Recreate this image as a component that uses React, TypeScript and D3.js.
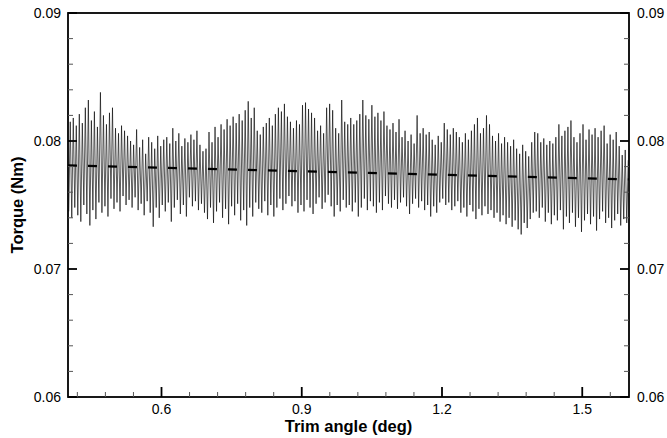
import React from "react";
import * as d3 from "d3";

// Peak (local maxima) values of the torque signal, read left to right
const peaks: number[] = [
  0.0815, 0.0818, 0.0812, 0.0821, 0.0814, 0.0826, 0.0832, 0.0816, 0.0823, 0.0811, 0.0838, 0.0820, 0.0813, 0.0822, 0.0826, 0.0810, 0.0806, 0.0812, 0.0808, 0.0804, 0.0800, 0.0797, 0.0809, 0.0795, 0.0801, 0.0790, 0.0803, 0.0799, 0.0794, 0.0804, 0.0796,
  0.0801, 0.0803, 0.0798, 0.0810, 0.0800, 0.0806, 0.0796, 0.0802, 0.0799, 0.0805, 0.0801, 0.0808, 0.0797, 0.0792, 0.0794, 0.0807, 0.0799, 0.0811, 0.0803, 0.0813, 0.0809, 0.0817, 0.0812, 0.0819, 0.0814, 0.0821, 0.0816, 0.0824, 0.0831, 0.0818, 0.0826,
  0.0808, 0.0805, 0.0811, 0.0814, 0.0818, 0.0812, 0.0821, 0.0826, 0.0823, 0.0829, 0.0819, 0.0815, 0.0810, 0.0816, 0.0813, 0.0828, 0.0830, 0.0825, 0.0822, 0.0818, 0.0808, 0.0812, 0.0806, 0.0826, 0.0829, 0.0824, 0.0810, 0.0806, 0.0832, 0.0815, 0.0813,
  0.0818, 0.0813, 0.0816, 0.0821, 0.0832, 0.0820, 0.0817, 0.0828, 0.0819, 0.0822, 0.0816, 0.0823, 0.0812, 0.0809, 0.0814, 0.0807, 0.0817, 0.0803, 0.0808, 0.0800, 0.0805, 0.0798, 0.0820, 0.0806, 0.0810, 0.0805, 0.0807, 0.0801, 0.0797, 0.0804, 0.0799,
  0.0814, 0.0809, 0.0805, 0.0810, 0.0807, 0.0803, 0.0799, 0.0806, 0.0801, 0.0808, 0.0813, 0.0818, 0.0806, 0.0810, 0.0820, 0.0813, 0.0804, 0.0800, 0.0806, 0.0798, 0.0803, 0.0799, 0.0796, 0.0801, 0.0794, 0.0790, 0.0797, 0.0792, 0.0788, 0.0799, 0.0807,
  0.0806, 0.0799, 0.0802, 0.0797, 0.0800, 0.0798, 0.0803, 0.0813, 0.0804, 0.0808, 0.0811, 0.0816, 0.0803, 0.0799, 0.0806, 0.0813, 0.0801, 0.0809, 0.0805, 0.0810, 0.0803, 0.0808, 0.0812, 0.0798, 0.0805, 0.0801, 0.0807, 0.0796, 0.0789, 0.0793, 0.0785,
];

// Trough (local minima) values of the torque signal, read left to right
const troughs: number[] = [
  0.0745, 0.0740, 0.0748, 0.0742, 0.0737, 0.0750, 0.0743, 0.0734, 0.0746, 0.0739, 0.0752, 0.0744, 0.0749, 0.0741, 0.0755, 0.0747, 0.0752, 0.0745, 0.0757, 0.0750, 0.0754, 0.0748, 0.0756, 0.0746, 0.0751, 0.0742, 0.0753, 0.0744, 0.0733, 0.0748, 0.0740,
  0.0750, 0.0745, 0.0752, 0.0737, 0.0748, 0.0754, 0.0743, 0.0750, 0.0741, 0.0756, 0.0749, 0.0753, 0.0746, 0.0751, 0.0744, 0.0739, 0.0748, 0.0736, 0.0745, 0.0752, 0.0740, 0.0747, 0.0735, 0.0749, 0.0742, 0.0751, 0.0738, 0.0746, 0.0734, 0.0748, 0.0741,
  0.0752, 0.0747, 0.0744, 0.0753, 0.0742, 0.0750, 0.0741, 0.0748, 0.0755, 0.0746, 0.0751, 0.0757, 0.0749, 0.0753, 0.0744, 0.0750, 0.0745, 0.0754, 0.0748, 0.0743, 0.0751, 0.0756, 0.0747, 0.0752, 0.0758, 0.0749, 0.0741, 0.0750, 0.0745, 0.0754, 0.0748,
  0.0750, 0.0745, 0.0752, 0.0741, 0.0748, 0.0755, 0.0746, 0.0753, 0.0749, 0.0744, 0.0752, 0.0746, 0.0757, 0.0751, 0.0748, 0.0754, 0.0747, 0.0752, 0.0756, 0.0749, 0.0743, 0.0751, 0.0755, 0.0748, 0.0753, 0.0746, 0.0750, 0.0741, 0.0749, 0.0744, 0.0752,
  0.0755, 0.0750, 0.0752, 0.0746, 0.0749, 0.0753, 0.0744, 0.0748, 0.0741, 0.0750, 0.0745, 0.0739, 0.0747, 0.0742, 0.0749, 0.0743, 0.0746, 0.0740, 0.0744, 0.0737, 0.0742, 0.0735, 0.0740, 0.0733, 0.0738, 0.0731, 0.0727, 0.0736, 0.0732, 0.0739, 0.0744,
  0.0745, 0.0740, 0.0748, 0.0737, 0.0744, 0.0735, 0.0742, 0.0738, 0.0746, 0.0731, 0.0741, 0.0736, 0.0744, 0.0733, 0.0740, 0.0729, 0.0738, 0.0743, 0.0735, 0.0741, 0.0730, 0.0739, 0.0745, 0.0736, 0.0740, 0.0732, 0.0738, 0.0743, 0.0734, 0.0739, 0.0736,
];

// Dashed mean trend line
const trendX: number[] = [0.4, 1.6];
const trendY: number[] = [0.0781, 0.077];

// Axes
const xDomain: number[] = [0.4, 1.6];
const yDomain: number[] = [0.06, 0.09];
const xMajorTicks: number[] = [0.6, 0.9, 1.2, 1.5];
const xMinorStep = 0.06;
const yMajorTicks: number[] = [0.06, 0.07, 0.08, 0.09];
const yMinorStep = 0.002;

const W = 667;
const H = 438;
const M = { left: 68, right: 629, top: 13, bottom: 397 };
const FONT = "'Liberation Sans', Arial, Helvetica, sans-serif";

export default function App() {
  const x = d3.scaleLinear().domain(xDomain).range([M.left, M.right]);
  const y = d3.scaleLinear().domain(yDomain).range([M.bottom, M.top]);

  const n = peaks.length;
  const step = (xDomain[1] - xDomain[0]) / (2 * n);
  const pts: [number, number][] = [];
  for (let i = 0; i < n; i++) {
    pts.push([xDomain[0] + (2 * i + 0.5) * step, troughs[i]]);
    pts.push([xDomain[0] + (2 * i + 1.5) * step, peaks[i]]);
  }
  const line = d3
    .line<[number, number]>()
    .x((d) => x(d[0]))
    .y((d) => y(d[1]));
  const signalPath = line(pts) || "";
  const trendPath =
    line(trendX.map((v, i) => [v, trendY[i]] as [number, number])) || "";

  const xMinor: number[] = [];
  for (let v = 0.42; v < xDomain[1] - 1e-9; v += xMinorStep) {
    const r = Math.round(v * 100) / 100;
    if (!xMajorTicks.some((t) => Math.abs(t - r) < 1e-6)) xMinor.push(r);
  }
  const yMinor: number[] = [];
  for (let v = yDomain[0]; v < yDomain[1] + 1e-9; v += yMinorStep) {
    const r = Math.round(v * 10000) / 10000;
    if (!yMajorTicks.some((t) => Math.abs(t - r) < 1e-7)) yMinor.push(r);
  }
  const fmtY = d3.format(".2f");
  const fmtX = d3.format(".1f");

  return (
    <svg
      width={W}
      height={H}
      style={{ position: "absolute", left: 0, top: 0, background: "#fff" }}
      fontFamily={FONT}
    >
      <defs>
        <clipPath id="plotclip">
          <rect x={M.left} y={M.top} width={M.right - M.left} height={M.bottom - M.top} />
        </clipPath>
      </defs>
      <g clipPath="url(#plotclip)">
        <path d={signalPath} fill="none" stroke="#000" strokeWidth={0.75} strokeOpacity={0.85} />
        <path
          d={trendPath}
          fill="none"
          stroke="#000"
          strokeWidth={2.2}
          strokeDasharray="9,11"
        />
      </g>

      {/* frame */}
      <rect
        x={M.left}
        y={M.top}
        width={M.right - M.left}
        height={M.bottom - M.top}
        fill="none"
        stroke="#000"
        strokeWidth={1.8}
      />

      {/* y ticks left and right */}
      {yMajorTicks.map((t) => (
        <g key={"ym" + t}>
          <line x1={M.left} x2={M.left + 9} y1={y(t)} y2={y(t)} stroke="#000" strokeWidth={1.8} />
          <line x1={M.right} x2={M.right - 9} y1={y(t)} y2={y(t)} stroke="#000" strokeWidth={1.8} />
          <text x={M.left - 7} y={y(t)} dy="0.35em" textAnchor="end" fontSize={14} fill="#000">
            {fmtY(t)}
          </text>
          <text x={M.right + 8} y={y(t)} dy="0.35em" textAnchor="start" fontSize={14} fill="#000">
            {fmtY(t)}
          </text>
        </g>
      ))}
      {yMinor.map((t) => (
        <g key={"yn" + t}>
          <line x1={M.left} x2={M.left + 5} y1={y(t)} y2={y(t)} stroke="#555" strokeWidth={1} />
          <line x1={M.right} x2={M.right - 5} y1={y(t)} y2={y(t)} stroke="#555" strokeWidth={1} />
        </g>
      ))}

      {/* x ticks */}
      {xMajorTicks.map((t) => (
        <g key={"xm" + t}>
          <line x1={x(t)} x2={x(t)} y1={M.bottom} y2={M.bottom - 10} stroke="#000" strokeWidth={1.8} />
          <text x={x(t)} y={M.bottom + 17} textAnchor="middle" fontSize={14} fill="#000">
            {fmtX(t)}
          </text>
        </g>
      ))}
      {xMinor.map((t) => (
        <line key={"xn" + t} x1={x(t)} x2={x(t)} y1={M.bottom} y2={M.bottom - 5} stroke="#555" strokeWidth={1} />
      ))}

      {/* axis titles */}
      <text
        x={(M.left + M.right) / 2}
        y={432}
        textAnchor="middle"
        fontSize={16.5}
        fontWeight="bold"
        fill="#000"
      >
        Trim angle (deg)
      </text>
      <text
        transform={`translate(23, ${(M.top + M.bottom) / 2}) rotate(-90)`}
        textAnchor="middle"
        fontSize={16.5}
        fontWeight="bold"
        fill="#000"
      >
        Torque (Nm)
      </text>
    </svg>
  );
}
